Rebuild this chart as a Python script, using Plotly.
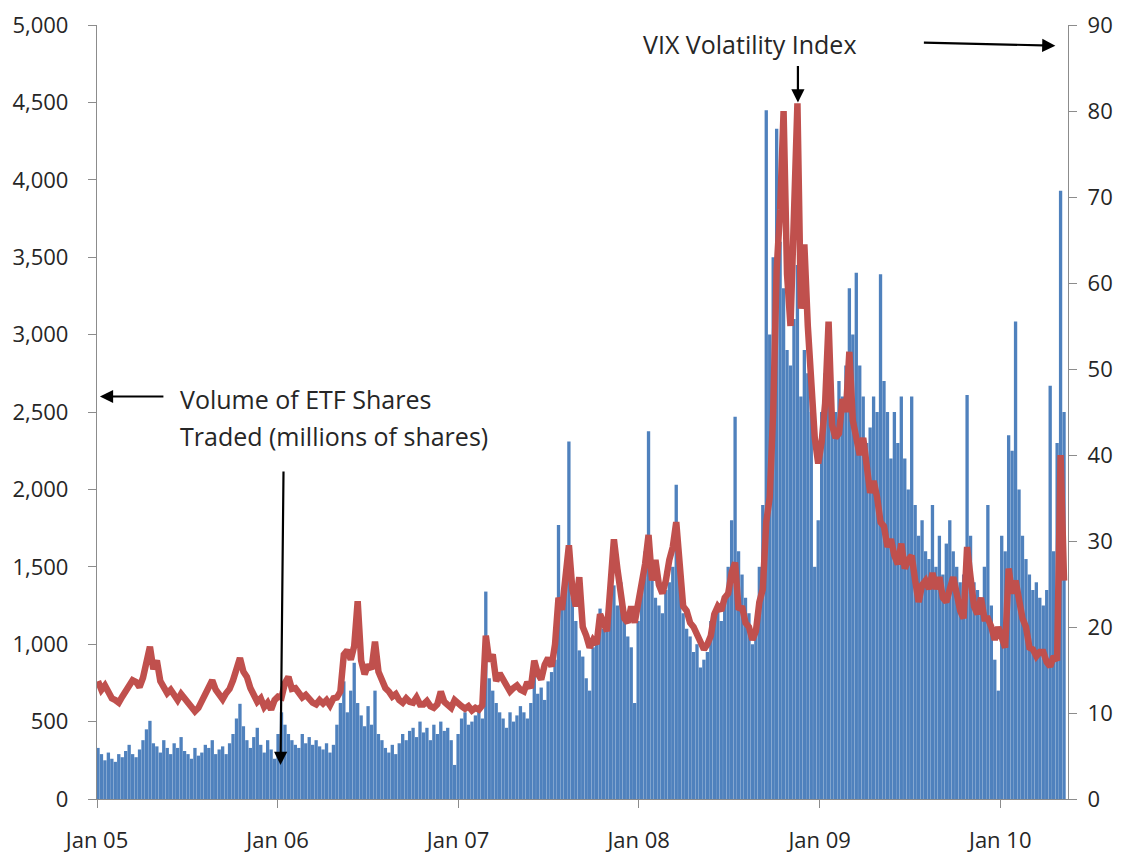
import pandas as pd
import plotly.graph_objs as go

# ---------------------------------------------------------------
# Weekly readings (week starting Monday 3 Jan 2005 .. 10 May 2010)
# ---------------------------------------------------------------
start_week = "2005-01-03"

# ETF shares traded, millions (one value per week, 13 per quarter)
volume_2005 = [
    330, 290, 250, 300, 260, 240, 290, 270, 310, 350, 290, 270, 320,
    380, 450, 505, 360, 340, 300, 380, 330, 290, 360, 330, 400, 310,
    290, 260, 330, 280, 300, 350, 330, 380, 290, 320, 340, 290, 360,
    420, 520, 615, 470, 380, 330, 400, 460, 350, 300, 380, 320, 260,
]
volume_2006 = [
    420, 560, 480, 420, 380, 350, 330, 420, 360, 400, 350, 380, 340,
    320, 360, 300, 350, 480, 620, 760, 560, 700, 880, 620, 540, 470,
    600, 480, 700, 420, 380, 330, 300, 350, 290, 360, 420, 380, 440,
    460, 400, 500, 430, 460, 380, 480, 420, 500, 440, 460, 380, 220,
]
volume_2007 = [
    420, 520, 560, 480, 500, 540, 580, 520, 1340, 780, 700, 620, 560,
    520, 460, 560, 500, 540, 600, 560, 520, 620, 800, 680, 720, 640,
    760, 820, 900, 1770, 1250, 1400, 2310, 1300, 1150, 960, 920, 780, 700,
    980, 1050, 1230, 1100, 1150, 1300, 1380, 1250, 1400, 1190, 1050, 980, 620,
]
volume_2008 = [
    1150, 1400, 1600, 2375, 1450, 1300, 1250, 1200, 1350, 1400, 1500, 2030, 1450,
    1200, 1100, 1050, 950, 1000, 850, 900, 950, 1150, 1200, 1250, 1150, 1300,
    1500, 1800, 2470, 1600, 1450, 1300, 1200, 1000, 1150, 1500, 1900, 4450, 3000,
    3500, 4330, 3600, 3300, 2900, 2800, 3100, 3450, 2600, 2900, 2750, 2500, 1500,
]
volume_2009 = [
    1800, 2500, 2750, 2900, 2400, 2500, 2700, 2600, 2800, 3300, 3000, 3400, 2800,
    2600, 2300, 2400, 2600, 2500, 3390, 2700, 2500, 2200, 2500, 2300, 2600, 2200,
    2000, 2600, 1900, 1700, 1800, 1600, 1550, 1900, 1500, 1700, 1450, 1650, 1800,
    1600, 1500, 1400, 1450, 2610, 1700, 1400, 1350, 1300, 1500, 1900, 1250, 900,
]
volume_2010 = [
    700, 1700, 1600, 2350, 2250, 3085, 2000, 1700, 1550, 1450,
    1350, 1400, 1300, 1250, 1350, 2670, 1600, 2300, 3930, 2500,
]

# VIX close (same weeks)
vix_2005 = [
    13.7, 12.7, 13.2, 12.5, 11.7, 11.5, 11.2, 11.9, 12.5, 13.3, 13.8, 13.6, 13.0,
    14.1, 16.4, 17.7, 15.1, 16.1, 13.7, 13.1, 12.3, 12.7, 11.9, 11.5, 12.2, 11.7,
    11.1, 10.5, 10.2, 10.6, 11.5, 12.3, 13.2, 13.8, 12.7, 12.1, 11.6, 12.3, 12.8,
    13.8, 15.4, 16.4, 14.8, 14.2, 12.9, 12.1, 11.3, 11.7, 10.7, 11.2, 10.4, 11.5,
]
vix_2006 = [
    11.9, 11.8, 13.5, 14.2, 12.8, 12.9, 12.2, 11.8, 12.1, 11.6, 11.2, 11.0, 11.5,
    11.1, 11.5, 10.9, 11.7, 11.8, 12.5, 16.8, 17.3, 16.2, 17.8, 23.0, 16.1, 14.5,
    15.6, 15.1, 18.3, 14.8, 13.6, 12.9, 12.5, 11.9, 12.2, 11.5, 11.2, 11.7, 11.3,
    11.2, 11.8, 11.0, 11.0, 11.4, 10.8, 10.6, 11.0, 12.5, 11.3, 10.8, 10.6, 11.5,
]
vix_2007 = [
    11.0, 10.8, 10.5, 10.8, 10.3, 10.6, 10.4, 10.9, 19.0, 16.0, 16.8, 13.7, 14.6,
    13.9, 13.2, 12.5, 12.9, 13.2, 12.7, 12.5, 13.6, 12.9, 16.1, 14.6, 13.9, 15.6,
    16.4, 15.4, 18.0, 23.4, 22.0, 25.8, 29.5, 24.4, 22.4, 25.8, 20.0, 19.0, 17.6,
    18.5, 18.0, 21.5, 20.5, 19.5, 24.8, 30.2, 26.8, 24.4, 21.0, 20.5, 22.4, 20.5,
]
vix_2008 = [
    22.9, 24.4, 27.3, 30.7, 25.4, 27.8, 24.9, 23.9, 25.4, 27.8, 29.3, 32.2, 26.3,
    22.4, 21.9, 20.5, 20.0, 19.0, 18.0, 17.4, 18.0, 19.0, 21.5, 22.4, 21.9, 23.4,
    23.9, 26.3, 27.5, 22.0, 22.4, 20.5, 20.0, 18.5, 19.5, 22.9, 24.4, 32.2, 35.1,
    45.0, 61.5, 68.5, 80.0, 61.0, 55.0, 66.5, 80.9, 57.0, 64.5, 55.0, 47.0, 42.0,
]
vix_2009 = [
    39.0, 41.5, 46.0, 55.5, 43.5, 42.0, 42.5, 46.5, 45.0, 52.0, 44.0, 41.5, 40.0,
    42.0, 39.0, 35.6, 37.0, 35.1, 32.2, 31.7, 29.3, 30.2, 28.3, 27.3, 29.7, 26.8,
    27.8, 28.3, 25.4, 22.9, 24.9, 25.4, 24.4, 26.3, 24.4, 25.8, 23.4, 22.9, 24.4,
    25.8, 23.9, 21.9, 21.0, 29.3, 25.8, 22.4, 21.5, 23.4, 21.0, 21.0, 20.0, 18.5,
]
vix_2010 = [
    20.0, 18.5, 17.6, 26.8, 23.9, 25.4, 22.9, 21.0, 20.0, 17.6,
    17.4, 16.6, 17.1, 17.1, 15.9, 15.4, 16.6, 16.1, 40.0, 25.4,
]

volume = volume_2005 + volume_2006 + volume_2007 + volume_2008 + volume_2009 + volume_2010
vix = vix_2005 + vix_2006 + vix_2007 + vix_2008 + vix_2009 + vix_2010
weeks = pd.date_range(start=start_week, periods=len(volume), freq="7D")

FONT = "Open Sans"
TEXT = "#262626"
AXIS = "#8c8c8c"

fig = go.Figure()

fig.add_trace(
    go.Bar(
        x=weeks,
        y=volume,
        name="ETF volume",
        marker=dict(color="#4f81bd", line=dict(width=0)),
        yaxis="y",
    )
)

fig.add_trace(
    go.Scatter(
        x=weeks,
        y=vix,
        mode="lines",
        name="VIX",
        line=dict(color="#c0504d", width=6.5),
        yaxis="y2",
    )
)

axis_style = dict(
    showline=True,
    linecolor=AXIS,
    linewidth=1.3,
    ticks="outside",
    ticklen=8,
    tickcolor=AXIS,
    tickwidth=1.3,
    showgrid=False,
    zeroline=False,
    ticklabeloverflow="allow",
    tickfont=dict(family=FONT, size=22, color=TEXT),
)

# the page body adds an 8px margin, so the figure is 8px smaller each way
fig.update_layout(
    width=1115,
    height=847,
    margin=dict(l=89, r=55, t=17, b=56, autoexpand=False),
    paper_bgcolor="white",
    plot_bgcolor="white",
    showlegend=False,
    bargap=0.04,
    xaxis=dict(
        axis_style,
        type="date",
        range=["2005-01-01", "2010-05-18"],
        tick0="2005-01-01",
        dtick="M12",
        tickformat="%b %y",
        ticklabelstandoff=13,
    ),
    yaxis=dict(
        axis_style,
        range=[0, 5000],
        dtick=500,
        tickformat=",",
        ticklabelstandoff=15,
    ),
    yaxis2=dict(
        axis_style,
        overlaying="y",
        side="right",
        range=[0, 90],
        dtick=10,
        ticklabelstandoff=6,
    ),
)

note_font = dict(family=FONT, size=25, color=TEXT)
arrow = dict(showarrow=True, arrowhead=2, arrowsize=1.2, arrowwidth=2.2,
             arrowcolor="black", text="", axref="pixel", ayref="pixel")

fig.add_annotation(text="VIX Volatility Index", xref="paper", yref="paper",
                   x=0.6725, y=0.976, showarrow=False, font=note_font,
                   xanchor="center", yanchor="middle")
fig.add_annotation(text="Volume of ETF Shares", xref="paper", yref="paper",
                   x=0.0834, y=0.517, showarrow=False, font=note_font,
                   xanchor="left", yanchor="middle")
fig.add_annotation(text="Traded (millions of shares)", xref="paper", yref="paper",
                   x=0.0834, y=0.4686, showarrow=False, font=note_font,
                   xanchor="left", yanchor="middle")

# arrow to the VIX peak
fig.add_annotation(arrow, xref="x", yref="y2", x="2008-11-18", y=81, ax=0, ay=-38)
# arrow to the right-hand axis
fig.add_annotation(arrow, xref="paper", yref="y2", x=0.987, y=87.6, ax=-133, ay=-3)
# arrow to the left-hand axis
fig.add_annotation(arrow, xref="paper", yref="y", x=0.003, y=2600, ax=65, ay=0)
# arrow down to the volume bars
fig.add_annotation(arrow, xref="x", yref="y", x="2006-01-07", y=220, ax=3, ay=-295)

fig.write_html("out.html")
